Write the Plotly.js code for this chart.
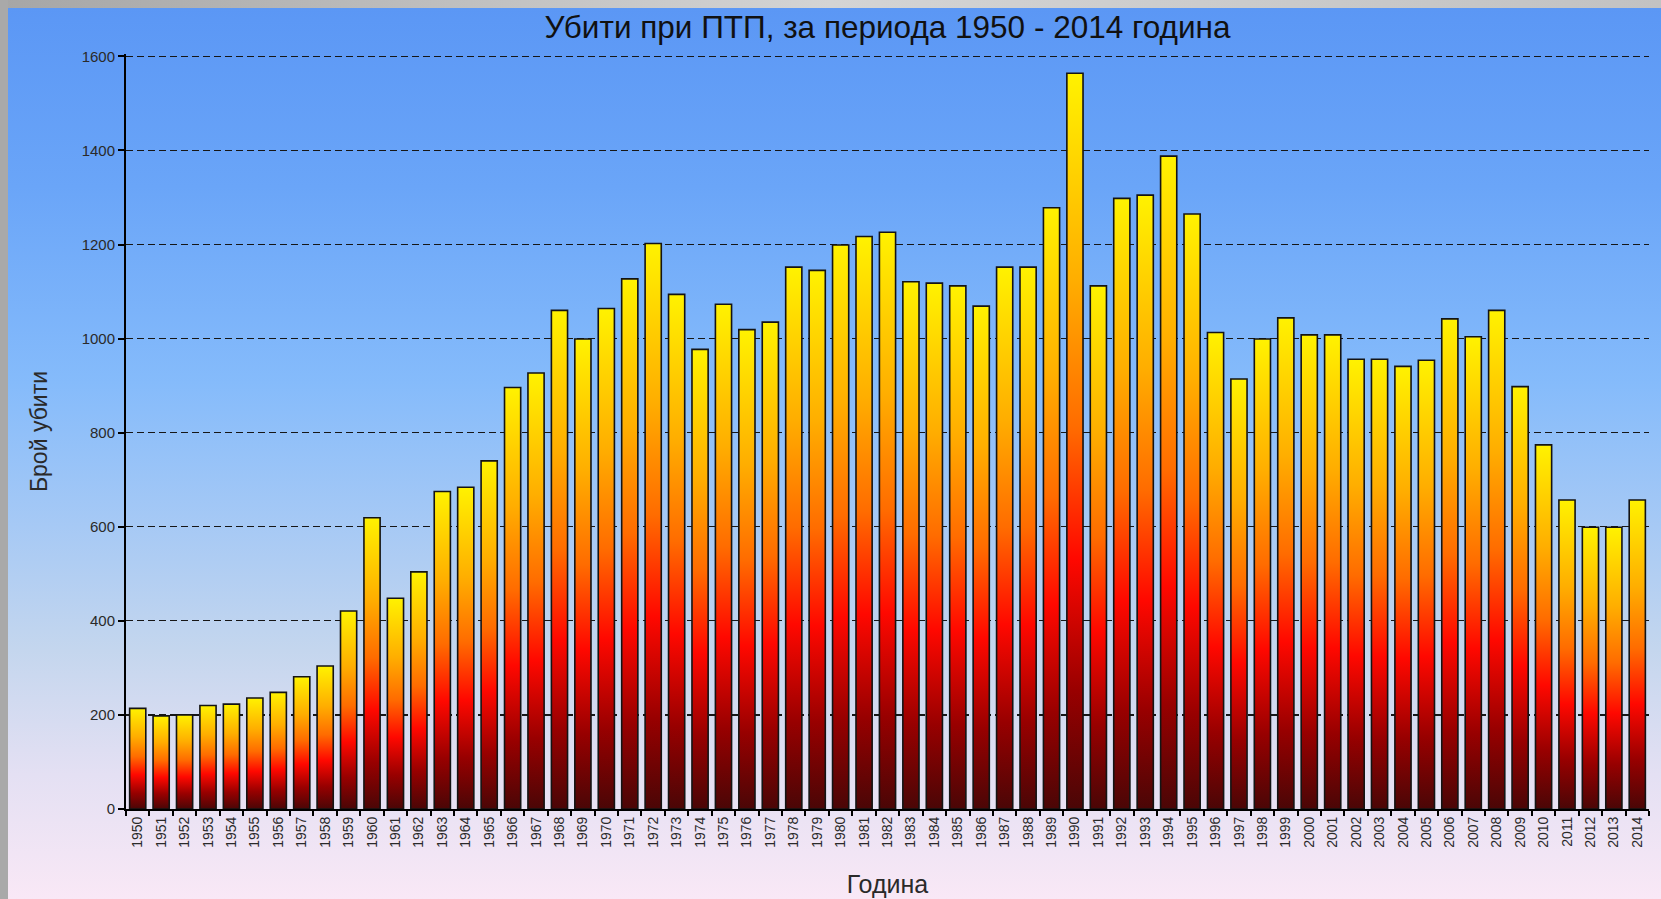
<!DOCTYPE html>
<html>
<head>
<meta charset="utf-8">
<script src="https://cdn.plot.ly/plotly-3.0.1.min.js"></script>
<style>
html,body{margin:0;padding:0;width:1661px;height:899px;overflow:hidden;background:#b4b4b4;}
#topstrip{position:absolute;left:0;top:0;width:1661px;height:8px;background:linear-gradient(to right,#a6a6a6 0%,#d4d4d4 50%,#c2c2c2 100%);}
#leftstrip{position:absolute;left:0;top:0;width:8px;height:899px;background:#a9a9a9;}
#bg{position:absolute;left:8px;top:8px;width:1653px;height:891px;
background:linear-gradient(to bottom,#5b97f5 0%,#6aa5f8 20%,#85bbfb 42%,#a6c9f5 58%,#c4d6ee 72%,#e4e0f3 86%,#f9e8f6 100%);}
#chart{position:absolute;left:0;top:0;width:1661px;height:899px;}
</style>
</head>
<body>
<div id="topstrip"></div>
<div id="leftstrip"></div>
<div id="bg"></div>
<div id="chart"></div>
<script>
const years = ["1950","1951","1952","1953","1954","1955","1956","1957","1958","1959",
"1960","1961","1962","1963","1964","1965","1966","1967","1968","1969",
"1970","1971","1972","1973","1974","1975","1976","1977","1978","1979",
"1980","1981","1982","1983","1984","1985","1986","1987","1988","1989",
"1990","1991","1992","1993","1994","1995","1996","1997","1998","1999",
"2000","2001","2002","2003","2004","2005","2006","2007","2008","2009",
"2010","2011","2012","2013","2014"];
const killed = [214,198,200,220,223,236,248,281,304,421,
619,448,504,675,684,740,896,927,1060,999,
1064,1127,1202,1094,977,1073,1019,1035,1152,1145,
1199,1217,1226,1121,1118,1112,1069,1152,1152,1278,
1564,1112,1298,1305,1388,1265,1013,914,999,1044,
1008,1008,956,956,941,954,1042,1004,1060,898,
774,657,599,599,657];
const chartTitle = "Убити при ПТП, за периода 1950 - 2014 година";
const xTitle = "Година";
const yTitle = "Брой убити";
const yTicks = [0,200,400,600,800,1000,1200,1400,1600];

const FONT = "Liberation Sans, Arial, sans-serif";

const data = [{
  type: "bar",
  x: years,
  y: killed,
  marker: {color: "#ff7a00", line: {color: "#141414", width: 1.6}},
  hoverinfo: "x+y"
}];

const layout = {
  width: 1661, height: 899,
  paper_bgcolor: "rgba(0,0,0,0)",
  plot_bgcolor: "rgba(0,0,0,0)",
  margin: {l: 126, r: 12, t: 54, b: 90, pad: 0},
  bargap: 0.31,
  showlegend: false,
  font: {family: FONT, color: "#111"},
  title: {text: chartTitle, font: {family: FONT, size: 31.5, color: "#111"},
          x: 0.5, xref: "paper", xanchor: "center", y: 0.97, yref: "container", yanchor: "middle"},
  xaxis: {
    type: "category",
    tickangle: -90,
    tickfont: {family: FONT, size: 14, color: "#2a2a2a"},
    ticks: "outside", ticklen: 5, tickwidth: 2, tickcolor: "#000",
    tickson: "boundaries",
    showline: true, linecolor: "#000", linewidth: 2,
    showgrid: false, zeroline: false,
    title: {text: xTitle, font: {family: FONT, size: 25, color: "#2a2a2a"}, standoff: 29}
  },
  yaxis: {
    range: [0, 1605],
    tickvals: yTicks,
    ticktext: yTicks.map(String),
    tickfont: {family: FONT, size: 15, color: "#2a2a2a"},
    ticks: "outside", ticklen: 6, tickwidth: 2, tickcolor: "#000",
    showline: true, linecolor: "#000", linewidth: 2,
    showgrid: true, gridcolor: "#161616", gridwidth: 1.3, griddash: "7px,4px",
    zeroline: false,
    title: {text: yTitle, font: {family: FONT, size: 23, color: "#2a2a2a"}, standoff: 28}
  }
};

function applyGradient(gd) {
  const ns = "http://www.w3.org/2000/svg";
  const svg = gd.querySelector(".main-svg");
  let defs = svg.querySelector("defs");
  if (!defs) { defs = document.createElementNS(ns, "defs"); svg.insertBefore(defs, svg.firstChild); }
  const lg = document.createElementNS(ns, "linearGradient");
  lg.setAttribute("id", "barGrad");
  lg.setAttribute("x1", "0"); lg.setAttribute("y1", "0");
  lg.setAttribute("x2", "0"); lg.setAttribute("y2", "1");
  const stops = [[0, "#fff200"], [0.28, "#ffae00"], [0.48, "#ff6c00"], [0.66, "#ff0800"], [0.84, "#980000"], [1, "#4a0606"]];
  stops.forEach(s => {
    const st = document.createElementNS(ns, "stop");
    st.setAttribute("offset", s[0]);
    st.setAttribute("stop-color", s[1]);
    lg.appendChild(st);
  });
  defs.appendChild(lg);
  gd.querySelectorAll(".barlayer .point path").forEach(p => { p.style.fill = "url(#barGrad)"; });
}

Plotly.newPlot("chart", data, layout, {staticPlot: true, displayModeBar: false}).then(applyGradient);
</script>
</body>
</html>
